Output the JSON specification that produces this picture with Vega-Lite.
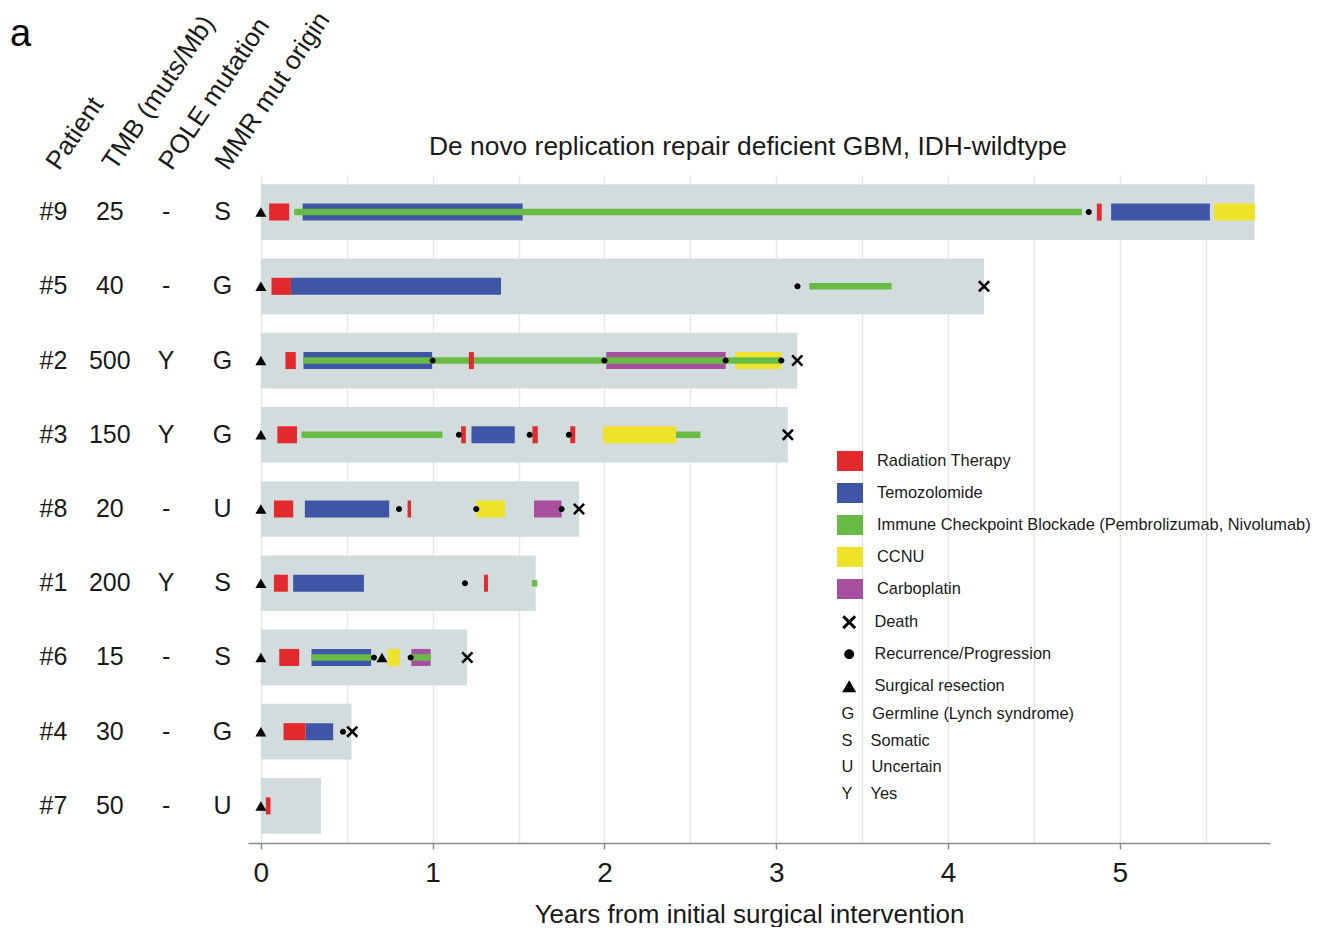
{
  "$schema": "https://vega.github.io/schema/vega-lite/v6.json",
  "background": "white",
  "padding": {"left": 0, "top": 7, "right": 0, "bottom": 0},
  "bounds": "flush",
  "spacing": 8,
  "config": {
    "view": {"stroke": null},
    "font": "Liberation Sans",
    "title": {"font": "Liberation Sans", "fontWeight": "normal", "color": "#1a1a1a"},
    "axis": {"labelFont": "Liberation Sans", "titleFont": "Liberation Sans"},
    "legend": {"labelFont": "Liberation Sans"}
  },
  "datasets": {
    "patients": [
      {"patient": "#9", "Patient": "#9", "TMB": "25", "POLE": "-", "MMR": "S", "survival": 5.785},
      {"patient": "#5", "Patient": "#5", "TMB": "40", "POLE": "-", "MMR": "G", "survival": 4.21},
      {"patient": "#2", "Patient": "#2", "TMB": "500", "POLE": "Y", "MMR": "G", "survival": 3.123},
      {"patient": "#3", "Patient": "#3", "TMB": "150", "POLE": "Y", "MMR": "G", "survival": 3.068},
      {"patient": "#8", "Patient": "#8", "TMB": "20", "POLE": "-", "MMR": "U", "survival": 1.852},
      {"patient": "#1", "Patient": "#1", "TMB": "200", "POLE": "Y", "MMR": "S", "survival": 1.6},
      {"patient": "#6", "Patient": "#6", "TMB": "15", "POLE": "-", "MMR": "S", "survival": 1.2},
      {"patient": "#4", "Patient": "#4", "TMB": "30", "POLE": "-", "MMR": "G", "survival": 0.528},
      {"patient": "#7", "Patient": "#7", "TMB": "50", "POLE": "-", "MMR": "U", "survival": 0.35}
    ],
    "treat": [
      {"patient": "#9", "start": 0.048, "end": 0.165, "tx": "Radiation Therapy"},
      {"patient": "#9", "start": 0.243, "end": 1.524, "tx": "Temozolomide"},
      {"patient": "#9", "start": 0.194, "end": 4.78, "tx": "Immune Checkpoint Blockade (Pembrolizumab, Nivolumab)"},
      {"patient": "#9", "start": 4.867, "end": 4.895, "tx": "Radiation Therapy"},
      {"patient": "#9", "start": 4.95, "end": 5.525, "tx": "Temozolomide"},
      {"patient": "#9", "start": 5.548, "end": 5.787, "tx": "CCNU"},
      {"patient": "#5", "start": 0.062, "end": 0.175, "tx": "Radiation Therapy"},
      {"patient": "#5", "start": 0.175, "end": 1.398, "tx": "Temozolomide"},
      {"patient": "#5", "start": 3.193, "end": 3.672, "tx": "Immune Checkpoint Blockade (Pembrolizumab, Nivolumab)"},
      {"patient": "#2", "start": 0.143, "end": 0.203, "tx": "Radiation Therapy"},
      {"patient": "#2", "start": 0.248, "end": 0.997, "tx": "Temozolomide"},
      {"patient": "#2", "start": 0.248, "end": 3.03, "tx": "Immune Checkpoint Blockade (Pembrolizumab, Nivolumab)"},
      {"patient": "#2", "start": 1.211, "end": 1.24, "tx": "Radiation Therapy"},
      {"patient": "#2", "start": 2.011, "end": 2.706, "tx": "Carboplatin"},
      {"patient": "#2", "start": 2.762, "end": 3.03, "tx": "CCNU"},
      {"patient": "#3", "start": 0.096, "end": 0.21, "tx": "Radiation Therapy"},
      {"patient": "#3", "start": 0.237, "end": 1.057, "tx": "Immune Checkpoint Blockade (Pembrolizumab, Nivolumab)"},
      {"patient": "#3", "start": 1.166, "end": 1.193, "tx": "Radiation Therapy"},
      {"patient": "#3", "start": 1.226, "end": 1.478, "tx": "Temozolomide"},
      {"patient": "#3", "start": 1.581, "end": 1.612, "tx": "Radiation Therapy"},
      {"patient": "#3", "start": 1.801, "end": 1.83, "tx": "Radiation Therapy"},
      {"patient": "#3", "start": 1.993, "end": 2.417, "tx": "CCNU"},
      {"patient": "#3", "start": 2.417, "end": 2.559, "tx": "Immune Checkpoint Blockade (Pembrolizumab, Nivolumab)"},
      {"patient": "#8", "start": 0.076, "end": 0.188, "tx": "Radiation Therapy"},
      {"patient": "#8", "start": 0.256, "end": 0.747, "tx": "Temozolomide"},
      {"patient": "#8", "start": 0.854, "end": 0.874, "tx": "Radiation Therapy"},
      {"patient": "#8", "start": 1.254, "end": 1.421, "tx": "CCNU"},
      {"patient": "#8", "start": 1.59, "end": 1.751, "tx": "Carboplatin"},
      {"patient": "#1", "start": 0.076, "end": 0.157, "tx": "Radiation Therapy"},
      {"patient": "#1", "start": 0.188, "end": 0.6, "tx": "Temozolomide"},
      {"patient": "#1", "start": 1.299, "end": 1.322, "tx": "Radiation Therapy"},
      {"patient": "#1", "start": 1.578, "end": 1.609, "tx": "Immune Checkpoint Blockade (Pembrolizumab, Nivolumab)"},
      {"patient": "#6", "start": 0.107, "end": 0.223, "tx": "Radiation Therapy"},
      {"patient": "#6", "start": 0.295, "end": 0.642, "tx": "Temozolomide"},
      {"patient": "#6", "start": 0.295, "end": 0.642, "tx": "Immune Checkpoint Blockade (Pembrolizumab, Nivolumab)"},
      {"patient": "#6", "start": 0.738, "end": 0.808, "tx": "CCNU"},
      {"patient": "#6", "start": 0.876, "end": 0.988, "tx": "Carboplatin"},
      {"patient": "#6", "start": 0.876, "end": 0.988, "tx": "Immune Checkpoint Blockade (Pembrolizumab, Nivolumab)"},
      {"patient": "#4", "start": 0.132, "end": 0.26, "tx": "Radiation Therapy"},
      {"patient": "#4", "start": 0.26, "end": 0.421, "tx": "Temozolomide"},
      {"patient": "#7", "start": 0.029, "end": 0.056, "tx": "Radiation Therapy"}
    ],
    "events": [
      {"patient": "#9", "t": 0, "event": "Surgical resection"},
      {"patient": "#9", "t": 4.82, "event": "Recurrence/Progression"},
      {"patient": "#5", "t": 0, "event": "Surgical resection"},
      {"patient": "#5", "t": 3.124, "event": "Recurrence/Progression"},
      {"patient": "#5", "t": 4.21, "event": "Death"},
      {"patient": "#2", "t": 0, "event": "Surgical resection"},
      {"patient": "#2", "t": 1.0, "event": "Recurrence/Progression"},
      {"patient": "#2", "t": 2.0, "event": "Recurrence/Progression"},
      {"patient": "#2", "t": 2.706, "event": "Recurrence/Progression"},
      {"patient": "#2", "t": 3.03, "event": "Recurrence/Progression"},
      {"patient": "#2", "t": 3.123, "event": "Death"},
      {"patient": "#3", "t": 0, "event": "Surgical resection"},
      {"patient": "#3", "t": 1.153, "event": "Recurrence/Progression"},
      {"patient": "#3", "t": 1.565, "event": "Recurrence/Progression"},
      {"patient": "#3", "t": 1.793, "event": "Recurrence/Progression"},
      {"patient": "#3", "t": 3.068, "event": "Death"},
      {"patient": "#8", "t": 0, "event": "Surgical resection"},
      {"patient": "#8", "t": 0.804, "event": "Recurrence/Progression"},
      {"patient": "#8", "t": 1.254, "event": "Recurrence/Progression"},
      {"patient": "#8", "t": 1.751, "event": "Recurrence/Progression"},
      {"patient": "#8", "t": 1.852, "event": "Death"},
      {"patient": "#1", "t": 0, "event": "Surgical resection"},
      {"patient": "#1", "t": 1.188, "event": "Recurrence/Progression"},
      {"patient": "#6", "t": 0, "event": "Surgical resection"},
      {"patient": "#6", "t": 0.705, "event": "Surgical resection"},
      {"patient": "#6", "t": 0.658, "event": "Recurrence/Progression"},
      {"patient": "#6", "t": 0.872, "event": "Recurrence/Progression"},
      {"patient": "#6", "t": 1.202, "event": "Death"},
      {"patient": "#4", "t": 0, "event": "Surgical resection"},
      {"patient": "#4", "t": 0.478, "event": "Recurrence/Progression"},
      {"patient": "#4", "t": 0.532, "event": "Death"},
      {"patient": "#7", "t": 0, "event": "Surgical resection"}
    ],
    "mmr": [
      {"lab": "G\u00a0\u00a0\u00a0\u00a0Germline (Lynch syndrome)"},
      {"lab": "S\u00a0\u00a0\u00a0\u00a0Somatic"},
      {"lab": "U\u00a0\u00a0\u00a0\u00a0Uncertain"},
      {"lab": "Y\u00a0\u00a0\u00a0\u00a0Yes"}
    ]
  },
  "resolve": {
    "scale": {"x": "independent", "y": "independent", "color": "independent", "shape": "independent", "strokeDash": "independent"},
    "legend": {"color": "independent", "shape": "independent", "strokeDash": "independent"}
  },
  "hconcat": [
    {
      "width": 240,
      "height": 668,
      "title": {"text": "a", "anchor": "start", "frame": "group", "fontSize": 38, "color": "black", "baseline": "alphabetic", "offset": 0, "dx": 10, "dy": 77},
      "data": {"name": "patients"},
      "transform": [{"fold": ["Patient", "TMB", "POLE", "MMR"], "as": ["col", "val"]}],
      "mark": {"type": "text", "fontSize": 25, "color": "#1a1a1a"},
      "encoding": {
        "x": {
          "field": "col", "type": "nominal",
          "scale": {"type": "point", "domain": ["Patient", "TMB", "POLE", "MMR"], "padding": 0.628, "align": 0.754},
          "axis": {
            "orient": "top", "title": null, "labelAngle": -56, "labelAlign": "left", "labelBaseline": "alphabetic",
            "labelPadding": 4, "labelOffset": 5, "labelFontSize": 26, "labelColor": "#1a1a1a", "domain": false, "ticks": false, "grid": false,
            "labelLimit": 400, "labelOverlap": false,
            "labelExpr": "datum.label == 'TMB' ? 'TMB (muts/Mb)' : datum.label == 'POLE' ? 'POLE mutation' : datum.label == 'MMR' ? 'MMR mut origin' : datum.label"
          }
        },
        "y": {
          "field": "patient", "type": "nominal",
          "scale": {"type": "band", "domain": ["#9", "#5", "#2", "#3", "#8", "#1", "#6", "#4", "#7"], "paddingInner": 0.25, "paddingOuter": 0.125},
          "axis": null
        },
        "text": {"field": "val"}
      }
    },
    {
      "width": 1022,
      "height": 668,
      "title": {"text": "De novo replication repair deficient GBM, IDH-wildtype", "fontSize": 26.4, "anchor": "middle", "dx": -11, "offset": 15},
      "layer": [
        {
          "data": {"name": "patients"},
          "mark": {"type": "bar", "color": "#d3dcdc"},
          "encoding": {
            "x": {
              "field": "survival", "type": "quantitative",
              "scale": {"domain": [-0.075, 5.875], "nice": false, "zero": false},
              "axis": {
                "values": [0, 0.5, 1, 1.5, 2, 2.5, 3, 3.5, 4, 4.5, 5, 5.5],
                "labelExpr": "datum.value % 1 === 0 ? format(datum.value, 'd') : ''",
                "tickOpacity": {"condition": {"test": "datum.value % 1 !== 0", "value": 0}, "value": 1},
                "grid": true, "gridColor": "#e8e8e8", "gridWidth": 1.5,
                "domainColor": "#8c8c8c", "domainWidth": 1.5, "tickColor": "#8c8c8c", "tickWidth": 1.5, "tickSize": 6,
                "labelFontSize": 28, "labelColor": "#1a1a1a", "labelPadding": 10, "labelOverlap": false, "labelFlush": false,
                "title": "Years from initial surgical intervention", "titleFontSize": 26, "titleFontWeight": "normal",
                "titleColor": "#1a1a1a", "titlePadding": 14, "titleX": 501
              }
            },
            "x2": {"datum": 0},
            "y": {
              "field": "patient", "type": "nominal",
              "scale": {"type": "band", "domain": ["#9", "#5", "#2", "#3", "#8", "#1", "#6", "#4", "#7"], "paddingInner": 0.25, "paddingOuter": 0.125},
              "axis": null
            }
          }
        },
        {
          "data": {"name": "treat"},
          "transform": [{"filter": "datum.tx === 'Temozolomide' || datum.tx === 'CCNU' || datum.tx === 'Carboplatin'"}],
          "mark": {"type": "bar", "height": 17},
          "encoding": {
            "x": {"field": "start", "type": "quantitative"},
            "x2": {"field": "end"},
            "y": {"field": "patient", "type": "nominal"},
            "color": {
              "field": "tx", "type": "nominal",
              "scale": {
                "domain": ["Radiation Therapy", "Temozolomide", "Immune Checkpoint Blockade (Pembrolizumab, Nivolumab)", "CCNU", "Carboplatin"],
                "range": ["#e2292d", "#3f56a7", "#68bc46", "#eee22b", "#a64f9f"]
              },
              "legend": {
                "title": null, "orient": "none", "legendX": 589, "legendY": 273, "padding": 0,
                "symbolType": "M-1,-0.77H1V0.77H-1Z", "symbolSize": 676, "symbolStrokeWidth": 0,
                "labelFontSize": 16.4, "labelOffset": 14, "rowPadding": 8, "labelColor": "#1a1a1a", "labelLimit": 600
              }
            }
          }
        },
        {
          "data": {"name": "treat"},
          "transform": [{"filter": "datum.tx === 'Immune Checkpoint Blockade (Pembrolizumab, Nivolumab)'"}],
          "mark": {"type": "bar", "height": 6.5},
          "encoding": {
            "x": {"field": "start", "type": "quantitative"},
            "x2": {"field": "end"},
            "y": {"field": "patient", "type": "nominal"},
            "color": {"field": "tx", "type": "nominal"}
          }
        },
        {
          "data": {"name": "treat"},
          "transform": [{"filter": "datum.tx === 'Radiation Therapy'"}],
          "mark": {"type": "bar", "height": 17},
          "encoding": {
            "x": {"field": "start", "type": "quantitative"},
            "x2": {"field": "end"},
            "y": {"field": "patient", "type": "nominal"},
            "color": {"field": "tx", "type": "nominal"}
          }
        },
        {
          "data": {"name": "events"},
          "transform": [{"filter": "datum.event === 'Surgical resection'"}],
          "mark": {"type": "point", "filled": true, "color": "black", "opacity": 1, "size": 121, "strokeWidth": 0},
          "encoding": {
            "x": {"field": "t", "type": "quantitative"},
            "y": {"field": "patient", "type": "nominal"},
            "shape": {
              "field": "event", "type": "nominal",
              "scale": {
                "domain": ["Death", "Recurrence/Progression", "Surgical resection"],
                "range": ["M-1,-0.7L-0.7,-1L0,-0.3L0.7,-1L1,-0.7L0.3,0L1,0.7L0.7,1L0,0.3L-0.7,1L-1,0.7L-0.3,0Z", "M0.7,0A0.7,0.7,0,1,1,-0.7,0A0.7,0.7,0,1,1,0.7,0Z", "triangle-up"]
              },
              "legend": {
                "title": null, "orient": "none", "legendX": 593, "legendY": 439, "padding": 0,
                "symbolSize": 196, "symbolFillColor": "black", "symbolStrokeWidth": 0,
                "labelFontSize": 16.4, "labelOffset": 17, "rowPadding": 15, "labelColor": "#1a1a1a", "labelLimit": 400
              }
            }
          }
        },
        {
          "data": {"name": "events"},
          "transform": [{"filter": "datum.event === 'Recurrence/Progression'"}],
          "mark": {"type": "point", "filled": true, "color": "black", "opacity": 1, "size": 74, "strokeWidth": 0},
          "encoding": {
            "x": {"field": "t", "type": "quantitative"},
            "y": {"field": "patient", "type": "nominal"},
            "shape": {"field": "event", "type": "nominal"}
          }
        },
        {
          "data": {"name": "events"},
          "transform": [{"filter": "datum.event === 'Death'"}],
          "mark": {"type": "point", "filled": true, "color": "black", "opacity": 1, "size": 144, "strokeWidth": 0},
          "encoding": {
            "x": {"field": "t", "type": "quantitative"},
            "y": {"field": "patient", "type": "nominal"},
            "shape": {"field": "event", "type": "nominal"}
          }
        },
        {
          "data": {"name": "mmr"},
          "mark": {"type": "point", "opacity": 0},
          "encoding": {
            "strokeDash": {
              "field": "lab", "type": "nominal",
              "scale": {
                "domain": ["G\u00a0\u00a0\u00a0\u00a0Germline (Lynch syndrome)", "S\u00a0\u00a0\u00a0\u00a0Somatic", "U\u00a0\u00a0\u00a0\u00a0Uncertain", "Y\u00a0\u00a0\u00a0\u00a0Yes"],
                "range": [[1, 0], [4, 2], [2, 2], [6, 3]]
              },
              "legend": {
                "title": null, "orient": "none", "legendX": 577, "legendY": 531, "padding": 0,
                "symbolSize": 4, "symbolOpacity": 0, "symbolStrokeWidth": 0,
                "labelFontSize": 16.4, "labelOffset": 0, "rowPadding": 9.5, "labelColor": "#1a1a1a", "labelLimit": 400
              }
            }
          }
        }
      ]
    }
  ]
}
